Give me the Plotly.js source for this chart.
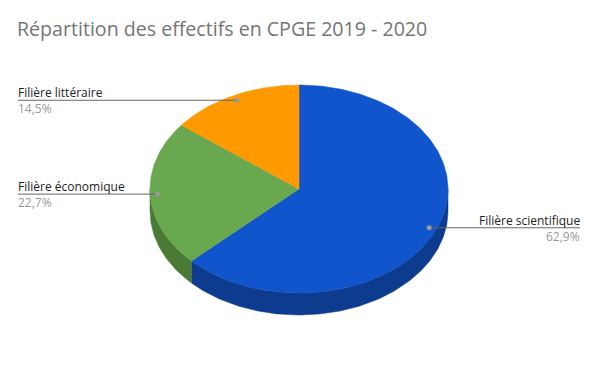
<!DOCTYPE html>
<html><head><meta charset="utf-8">
<script src="https://cdn.plot.ly/plotly-3.0.1.min.js"></script>
<style>html,body{margin:0;padding:0;background:#fff}#c{width:597px;height:367px}</style>
</head><body><div id="c"></div>
<script>
const categories = ["Filière scientifique", "Filière économique", "Filière littéraire"];
const values = [62.9, 22.7, 14.5];
const pctLabels = ["62,9%", "22,7%", "14,5%"];
const topColors = ["#1155cc", "#6aa84f", "#ff9900"];
const sideColors = ["#0d3c8f", "#4b7a36", "#b36b00"];

const cx = 299, cy = 189, rx = 149, ry = 104, depth = 22;
const total = values.reduce((a, b) => a + b, 0);
function pt(deg, f, dy) {
  const r = deg * Math.PI / 180;
  return [cx + rx * f * Math.sin(r), cy - ry * f * Math.cos(r) + (dy || 0)];
}
function arc(a0, a1, dy) {
  const out = [];
  const n = Math.max(2, Math.ceil(Math.abs(a1 - a0) / 1));
  for (let i = 0; i <= n; i++) out.push(pt(a0 + (a1 - a0) * i / n, 1, dy));
  return out;
}
const traces = [];
const starts = [];
let acc = 0;
values.forEach(v => { starts.push(acc / total * 360); acc += v; });
// sides
values.forEach((v, i) => {
  const a0 = starts[i], a1 = a0 + v / total * 360;
  const s = Math.max(a0, 90), e = Math.min(a1, 270);
  if (e <= s) return;
  const top = arc(s, e, 0), bot = arc(e, s, depth);
  const p = top.concat(bot); p.push(top[0]);
  traces.push({x: p.map(q => q[0]), y: p.map(q => q[1]), type: "scatter", mode: "lines",
    fill: "toself", fillcolor: sideColors[i], line: {width: 0.5, color: sideColors[i]}, hoverinfo: "skip", showlegend: false});
});
// tops
values.forEach((v, i) => {
  const a0 = starts[i], a1 = a0 + v / total * 360;
  const p = [[cx, cy]].concat(arc(a0, a1, 0)); p.push([cx, cy]);
  traces.push({x: p.map(q => q[0]), y: p.map(q => q[1]), type: "scatter", mode: "lines",
    fill: "toself", fillcolor: topColors[i], line: {width: 0.5, color: topColors[i]}, hoverinfo: "skip", showlegend: false});
});
// leader lines
const annotations = [];
const labelLeft = 18, labelRight = 580;
values.forEach((v, i) => {
  const mid = starts[i] + v / total * 180;
  const d = pt(mid, 0.95, 0);
  const right = Math.sin(mid * Math.PI / 180) > 0;
  const ex = right ? labelRight : labelLeft;
  traces.push({x: [d[0], ex], y: [d[1], d[1]], type: "scatter", mode: "lines",
    line: {width: 1, color: "#666"}, hoverinfo: "skip", showlegend: false});
  traces.push({x: [d[0]], y: [d[1]], type: "scatter", mode: "markers",
    marker: {size: 5, color: "#999"}, hoverinfo: "skip", showlegend: false});
  const anchor = right ? "right" : "left";
  const tx = right ? ex + 2 : ex - 2;
  annotations.push({x: tx, y: d[1] + 3, xref: "x", yref: "y", text: categories[i], showarrow: false,
    xanchor: anchor, yanchor: "bottom", font: {family: "Open Sans", size: 12, color: "#222"}});
  annotations.push({x: tx, y: d[1] - 2, xref: "x", yref: "y", text: pctLabels[i], showarrow: false,
    xanchor: anchor, yanchor: "top", font: {family: "Open Sans", size: 12, color: "#999"}});
});
annotations.push({x: 15, y: 28, xref: "x", yref: "y", text: "Répartition des effectifs en CPGE 2019 - 2020",
  showarrow: false, xanchor: "left", yanchor: "middle", font: {family: "Open Sans", size: 19.6, color: "#757575"}});
Plotly.newPlot("c", traces, {
  width: 597, height: 367, margin: {l: 0, r: 0, t: 0, b: 0},
  paper_bgcolor: "#fff", plot_bgcolor: "#fff",
  xaxis: {range: [0, 597], visible: false, fixedrange: true},
  yaxis: {range: [367, 0], visible: false, fixedrange: true},
  annotations: annotations, showlegend: false
}, {staticPlot: true});
</script></body></html>
